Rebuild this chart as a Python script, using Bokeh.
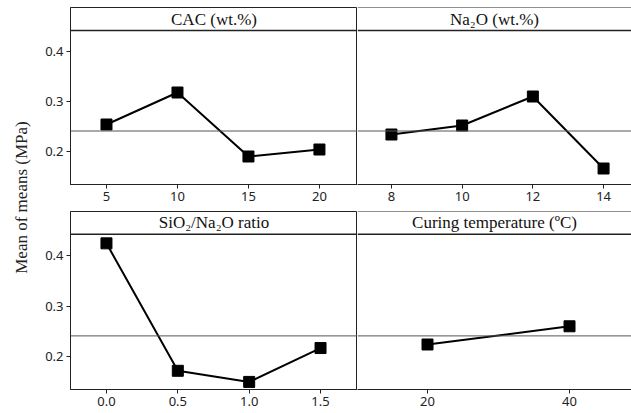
import math
from bokeh.plotting import figure
from bokeh.models import Range1d, Span, Label, PrintfTickFormatter
from bokeh.layouts import row, column
from bokeh.embed import file_html
from bokeh.resources import INLINE

# ---- data ----
cac_levels = [5, 10, 15, 20]
cac_means = [0.254, 0.318, 0.190, 0.204]
na2o_levels = [8, 10, 12, 14]
na2o_means = [0.234, 0.252, 0.310, 0.166]
ratio_levels = [0.0, 0.5, 1.0, 1.5]
ratio_means = [0.424, 0.172, 0.150, 0.217]
temp_levels = [20, 40]
temp_means = [0.224, 0.260]
grand_mean = 0.241
y_ticks = [0.2, 0.3, 0.4]
panel_titles = ["CAC (wt.%)", "Na\u2082O (wt.%)", "SiO\u2082/Na\u2082O ratio",
                "Curing temperature (\u00baC)"]
y_title = "Mean of means (MPa)"

TICK_FONT = "Noto Sans"
SERIF = "Liberation Serif"
HEADER_Y = 0.442
EDGE = "#222222"


def panel(levels, means, title, xr, yr, width, height, left, top, bottom, xfmt=None):
    p = figure(width=width, height=height, x_range=Range1d(*xr), y_range=Range1d(*yr),
               output_backend="svg", toolbar_location=None,
               min_border_left=left, min_border_right=0, min_border_top=top,
               min_border_bottom=bottom)
    p.background_fill_color = "white"
    p.border_fill_color = "white"
    p.xgrid.visible = False
    p.ygrid.visible = False
    if left == 0:
        # right-hand panels share the left edge of the neighbouring panel
        p.outline_line_color = None
        p.add_layout(Span(location=yr[1], dimension="width", line_color=EDGE,
                          line_width=1))
        p.add_layout(Span(location=xr[1], dimension="height", line_color=EDGE,
                          line_width=1))
    else:
        p.outline_line_color = EDGE
        p.outline_line_width = 1

    p.xaxis.ticker = levels
    if xfmt:
        p.xaxis.formatter = PrintfTickFormatter(format=xfmt)
    p.yaxis.ticker = y_ticks
    p.yaxis.formatter = PrintfTickFormatter(format="%.1f")
    for ax in (p.xaxis[0], p.yaxis[0]):
        ax.major_tick_in = 0
        ax.major_tick_out = 4
        ax.minor_tick_in = 0
        ax.minor_tick_out = 0
        ax.axis_line_color = EDGE
        ax.major_tick_line_color = EDGE
        ax.major_label_text_font = TICK_FONT
        ax.major_label_text_font_size = "13px"
        ax.major_label_text_color = "#222222"
        ax.major_label_standoff = 3
    if left == 0:
        p.yaxis.visible = False

    p.add_layout(Span(location=grand_mean, dimension="width", line_color="#555555",
                      line_width=1))
    p.add_layout(Span(location=HEADER_Y, dimension="width", line_color=EDGE,
                      line_width=1.5))
    p.add_layout(Label(x=(xr[0] + xr[1]) / 2, y=(HEADER_Y + yr[1]) / 2, text=title,
                       text_font=SERIF, text_font_size="17px", text_color="#111111",
                       text_align="center", text_baseline="middle"))

    p.line(levels, means, line_color="black", line_width=2)
    p.scatter(levels, means, marker="square", size=11, fill_color="black",
              line_color="black")
    return p


top_yr = (0.134, 0.488)
bot_yr = (0.135, 0.487)

p1 = panel(cac_levels, cac_means, panel_titles[0], (2.465, 22.68), top_yr,
           324, 211, 37, 7, 27)
p2 = panel(na2o_levels, na2o_means, panel_titles[1], (7.04, 14.79), top_yr,
           274, 211, 0, 7, 27)
p3 = panel(ratio_levels, ratio_means, panel_titles[2], (-0.252, 1.759), bot_yr,
           324, 201, 37, 0, 23, xfmt="%.1f")
p4 = panel(temp_levels, temp_means, panel_titles[3], (10.14, 48.73), bot_yr,
           274, 201, 0, 0, 23)

lab = figure(width=33, height=412, x_range=Range1d(0, 1), y_range=Range1d(0, 1),
             output_backend="svg", toolbar_location=None, min_border=0)
lab.outline_line_color = None
lab.axis.visible = False
lab.grid.visible = False
lab.add_layout(Label(x=21, y=215, x_units="screen", y_units="screen", text=y_title,
                     angle=math.pi / 2, text_font=SERIF, text_font_size="17px",
                     text_color="#222222", text_align="center", text_baseline="middle"))

layout = row(lab, column(row(p1, p2), row(p3, p4)))
open("out.html", "w").write(file_html(layout, INLINE))
